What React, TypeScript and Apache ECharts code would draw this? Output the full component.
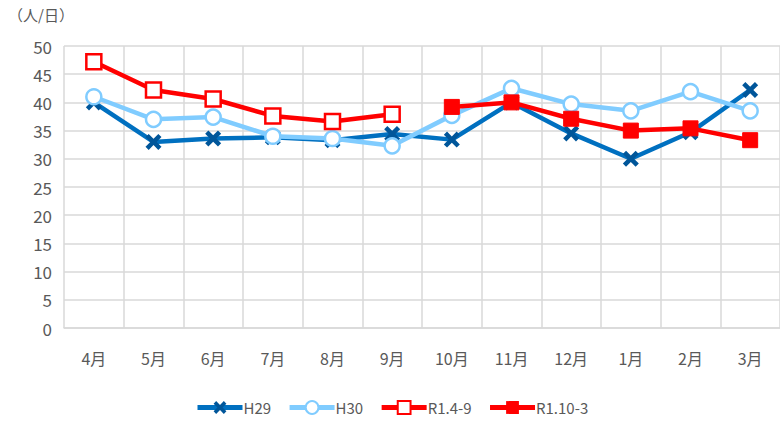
import React, { useEffect, useRef } from "react";
import * as echarts from "echarts";

const months = ["4月", "5月", "6月", "7月", "8月", "9月", "10月", "11月", "12月", "1月", "2月", "3月"];
const h29 = [40.0, 33.0, 33.6, 33.8, 33.3, 34.4, 33.4, 40.0, 34.5, 30.0, 34.7, 42.2];
const h30 = [41.0, 37.0, 37.4, 34.0, 33.6, 32.3, 37.7, 42.5, 39.7, 38.5, 41.9, 38.5];
const r1a = [47.2, 42.2, 40.6, 37.6, 36.6, 37.9, null, null, null, null, null, null];
const r1b = [null, null, null, null, null, null, 39.2, 40.0, 37.1, 35.0, 35.4, 33.3];
const seriesNames = ["H29", "H30", "R1.4-9", "R1.10-3"];
const unitLabel = "（人/日）";

const FONT = "'Noto Sans CJK JP', 'Noto Sans', sans-serif";
const XPATH = "path://M2,0 L5,3 L8,0 L10,2 L7,5 L10,8 L8,10 L5,7 L2,10 L0,8 L3,5 L0,2 Z";

export default function App() {
  const ref = useRef<HTMLDivElement>(null);
  useEffect(() => {
    const chart = echarts.init(ref.current!, null, { renderer: "svg" });
    chart.setOption({
      animation: false,
      textStyle: { fontFamily: FONT },
      graphic: [
        {
          type: "text",
          left: 8,
          top: 7,
          style: { text: unitLabel, fontSize: 15, fill: "#595959", fontFamily: FONT },
        },
      ],
      legend: {
        top: 400,
        left: 195,
        itemWidth: 45,
        itemHeight: 16,
        itemGap: 16,
        padding: 0,
        lineStyle: { width: 5 },
        textStyle: { fontSize: 15, color: "#595959", fontFamily: FONT, padding: [0, 0, 0, -4] },
        data: seriesNames,
      },
      grid: { left: 64, top: 46, width: 724, height: 282 },
      xAxis: {
        type: "category",
        data: months,
        boundaryGap: true,
        axisLine: { lineStyle: { color: "#d9d9d9", width: 1.5 } },
        axisTick: { show: false },
        splitLine: { show: true, lineStyle: { color: "#d9d9d9", width: 1.5 } },
        axisLabel: { margin: 22, fontSize: 16, color: "#595959", fontFamily: FONT, interval: 0 },
      },
      yAxis: {
        type: "value",
        min: 0,
        max: 50,
        interval: 5,
        axisLine: { show: false },
        axisTick: { show: false },
        splitLine: { lineStyle: { color: "#d9d9d9", width: 1.5 } },
        axisLabel: { margin: 12, fontSize: 17, color: "#595959", fontFamily: FONT },
      },
      series: [
        {
          name: seriesNames[0],
          type: "line",
          data: h29,
          symbol: XPATH,
          symbolSize: 16,
          lineStyle: { color: "#0070C0", width: 4.5 },
          itemStyle: { color: "#00569A", borderWidth: 0 },
          z: 2,
        },
        {
          name: seriesNames[1],
          type: "line",
          data: h30,
          symbol: "circle",
          symbolSize: 15,
          lineStyle: { color: "#80CCFF", width: 4.5 },
          itemStyle: { color: "#ffffff", borderColor: "#80CCFF", borderWidth: 2.5 },
          z: 3,
        },
        {
          name: seriesNames[2],
          type: "line",
          data: r1a,
          connectNulls: false,
          symbol: "rect",
          symbolSize: 15,
          lineStyle: { color: "#FF0000", width: 4.5 },
          itemStyle: { color: "#ffffff", borderColor: "#FF0000", borderWidth: 2.5 },
          z: 4,
        },
        {
          name: seriesNames[3],
          type: "line",
          data: r1b,
          connectNulls: false,
          symbol: "rect",
          symbolSize: 15,
          lineStyle: { color: "#FF0000", width: 4.5 },
          itemStyle: { color: "#FF0000", borderColor: "#FF0000" },
          z: 5,
        },
      ],
    });
    return () => chart.dispose();
  }, []);
  return (
    <div
      ref={ref}
      style={{ position: "absolute", left: 0, top: 0, width: 780, height: 421, background: "#fff" }}
    />
  );
}
